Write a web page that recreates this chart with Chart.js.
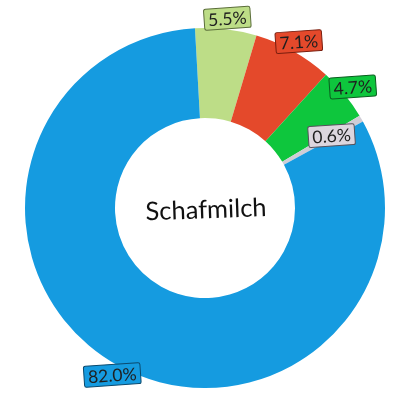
<!DOCTYPE html>
<html>
<head>
<meta charset="utf-8">
<script src="https://cdn.jsdelivr.net/npm/chart.js@4"></script>
<style>
    html, body { margin: 0; padding: 0; background: #ffffff; }
    #grafico-container { width: 415px; height: 415px; }
</style>
</head>
<body>
<div id="grafico-container"><canvas id="myChart" width="415" height="415"></canvas></div>
<script>
const categorias = ["Grünfutter", "Kraftfutter", "Mineralstoffe", "Sonstiges", "Wasser"];
const valores = [5.5, 7.1, 4.7, 0.6, 82.0];
const rotulos = ["5.5%", "7.1%", "4.7%", "0.6%", "82.0%"];
const titulo = "Schafmilch";

const cores = ["#bddd87", "#e4492b", "#0ec63d", "#cfcdd6", "#159be0"];
const coresRotulo = ["#bddd87", "#e4492b", "#0ec63d", "#dcd6de", "#159be0"];
const coresBorda = ["#5b6e3a", "#7a1e0e", "#0b5e20", "#55525c", "#0b4a6e"];

const pluginRotulos = {
    id: "rotulos",
    afterDatasetsDraw(chart) {
        const ctx = chart.ctx;
        const meta = chart.getDatasetMeta(0);
        ctx.save();
        ctx.font = "17.5px Lato";
        ctx.textAlign = "center";
        ctx.textBaseline = "middle";

        meta.data.forEach((arco, i) => {
            const meio = (arco.startAngle + arco.endAngle) / 2;
            let raio = arco.outerRadius + 11;
            if (valores[i] < 1) {
                raio = arco.innerRadius + (arco.outerRadius - arco.innerRadius) * 0.62;
            }
            const x = arco.x + Math.cos(meio) * raio;
            const y = arco.y + Math.sin(meio) * raio;
            const largura = ctx.measureText(rotulos[i]).width + 8;
            const altura = 21;

            ctx.save();
            ctx.translate(x, y);
            ctx.rotate(-4 * Math.PI / 180);
            ctx.beginPath();
            ctx.roundRect(-largura / 2, -altura / 2, largura, altura, 2);
            ctx.fillStyle = coresRotulo[i];
            ctx.fill();
            ctx.lineWidth = 1;
            ctx.strokeStyle = coresBorda[i];
            ctx.stroke();
            ctx.fillStyle = "#1f1f1f";
            ctx.fillText(rotulos[i], 0, 1);
            ctx.restore();
        });

        // texto no centro
        const centro = meta.data[0];
        ctx.translate(centro.x + 1, centro.y + 2);
        ctx.rotate(-2 * Math.PI / 180);
        ctx.font = "25.5px Lato";
        ctx.fillStyle = "#111111";
        ctx.fillText(titulo, 0, 0);
        ctx.restore();
    }
};

function criarGrafico(ctx) {
    return new Chart(ctx, {
        type: "doughnut",
        data: {
            labels: categorias,
            datasets: [{
                data: valores,
                backgroundColor: cores,
                borderWidth: 0,
                hoverOffset: 0
            }]
        },
        options: {
            responsive: false,
            animation: false,
            rotation: -3.2,
            cutout: "50%",
            layout: {
                padding: { left: 25, right: 30, top: 28, bottom: 27 }
            },
            plugins: {
                legend: { display: false },
                tooltip: { enabled: false }
            }
        },
        plugins: [pluginRotulos]
    });
}

criarGrafico(document.querySelector("#myChart"));
</script>
</body>
</html>
